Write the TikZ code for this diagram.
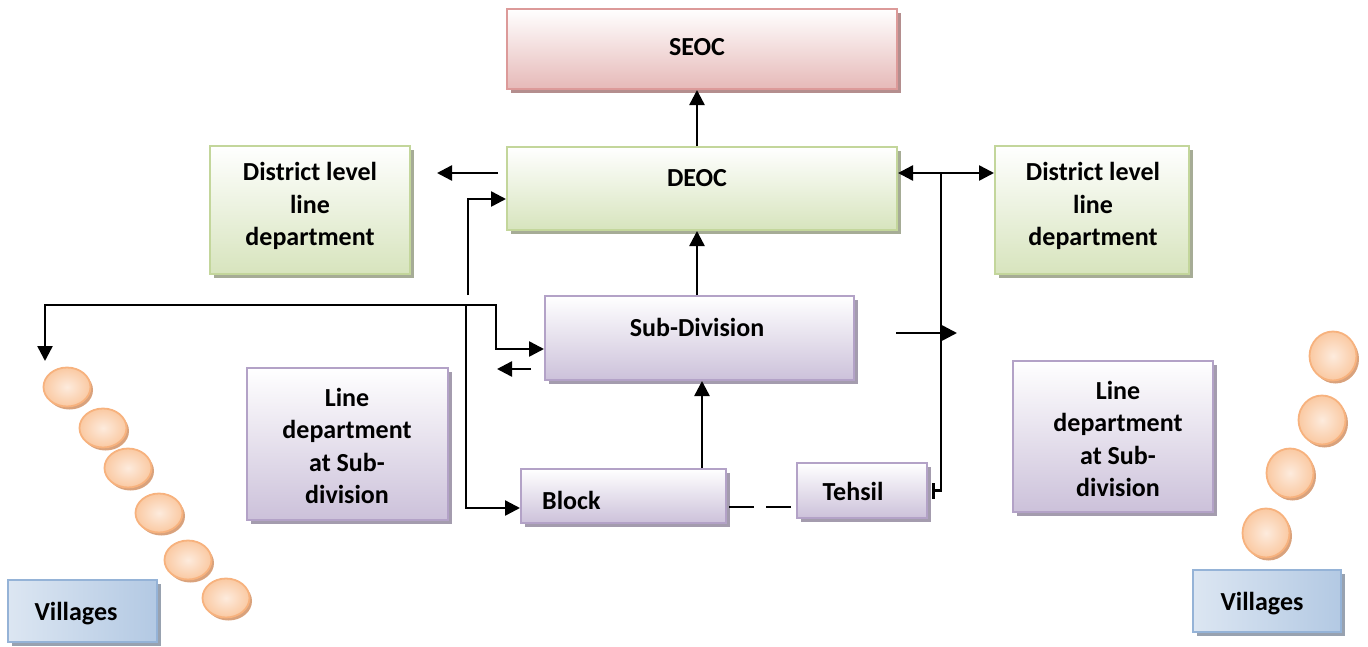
\documentclass[tikz,border=0pt]{standalone}
\usepackage{fontspec}
\setmainfont{Carlito}
\usetikzlibrary{arrows.meta,shadows,shapes.geometric}

\definecolor{pinkB}{HTML}{E6B9B8}
\definecolor{pinkD}{HTML}{DC9A99}
\definecolor{pinkS}{HTML}{B48E8E}
\definecolor{greenB}{HTML}{D7E4BD}
\definecolor{greenD}{HTML}{C3D69B}
\definecolor{greenS}{HTML}{A6AC96}
\definecolor{purpB}{HTML}{CCC1DA}
\definecolor{purpD}{HTML}{B3A2C7}
\definecolor{purpS}{HTML}{A49CAE}
\definecolor{blueL}{HTML}{DCE6F2}
\definecolor{blueB}{HTML}{B3C9E3}
\definecolor{blueD}{HTML}{95B3D7}
\definecolor{blueS}{HTML}{98A2B0}
\definecolor{peachL}{HTML}{FDEBDD}
\definecolor{peachB}{HTML}{FAC9A2}
\definecolor{peachD}{HTML}{F7B27E}
\definecolor{peachS}{HTML}{D9A27C}

\begin{document}
\begin{tikzpicture}[x=1pt,y=-1pt,
  box/.style={draw, line width=2pt, inner sep=0pt, anchor=center},
  pinkbox/.style={box, draw=pinkD, top color=white, bottom color=pinkB,
    drop shadow={shadow xshift=3.5pt, shadow yshift=-4pt, fill=pinkS, opacity=1}},
  greenbox/.style={box, draw=greenD, top color=white, bottom color=greenB,
    drop shadow={shadow xshift=3.5pt, shadow yshift=-4pt, fill=greenS, opacity=1}},
  purpbox/.style={box, draw=purpD, top color=white, bottom color=purpB,
    drop shadow={shadow xshift=3.5pt, shadow yshift=-4pt, fill=purpS, opacity=1}},
  villbox/.style={box, draw=blueD, left color=blueL, right color=blueB,
    drop shadow={shadow xshift=3.5pt, shadow yshift=-4pt, fill=blueS, opacity=1}},
  dot/.style={ellipse, draw=peachD, line width=1.8pt, inner sep=0pt,
    inner color=peachL, outer color=peachB,
    drop shadow={shadow xshift=2.5pt, shadow yshift=-3pt, fill=peachS, opacity=1}},
  lbl/.style={font=\bfseries\fontsize{26}{32.5}\selectfont, align=center, inner sep=0pt},
  conn/.style={line width=2.5pt},
  arr/.style={conn, -{Triangle[length=15pt,width=15pt]}},
  arrs/.style={conn, {Triangle[length=15pt,width=15pt]}-{Triangle[length=15pt,width=15pt]}},
]
\useasboundingbox (0,0) rectangle (1368,646);

% ---- boxes ----
\node[pinkbox, minimum width=390, minimum height=80] (seoc) at (702,49) {};
\node[greenbox, minimum width=390, minimum height=83] (deoc) at (702,188.5) {};
\node[greenbox, minimum width=200, minimum height=128] (distL) at (310,210) {};
\node[greenbox, minimum width=194, minimum height=128] (distR) at (1092,210) {};
\node[purpbox, minimum width=309, minimum height=84] (subdiv) at (699.5,338) {};
\node[purpbox, minimum width=201, minimum height=152] (lineL) at (347.5,444) {};
\node[purpbox, minimum width=200, minimum height=151] (lineR) at (1113,436.5) {};
\node[purpbox, minimum width=205, minimum height=54] (block) at (623.5,496) {};
\node[purpbox, minimum width=130, minimum height=55] (tehsil) at (862,490.5) {};
\node[villbox, minimum width=149, minimum height=62] (villL) at (82.5,611) {};
\node[villbox, minimum width=148, minimum height=62] (villR) at (1267,601) {};

% ---- texts ----
\node[lbl] (seoc-t) at (697,47) {SEOC};
\node[lbl] (deoc-t) at (697,178) {DEOC};
\node[lbl] (distL-t) at (310,206) {District level\\line\\department};
\node[lbl] (distR-t) at (1093,206) {District level\\line\\department};
\node[lbl] (subdiv-t) at (697,327) {Sub-Division};
\node[lbl] (lineL-t) at (347,446) {Line\\department\\at Sub-\\division};
\node[lbl] (lineR-t) at (1118,439) {Line\\department\\at Sub-\\division};
\node[lbl, anchor=west] (block-t) at (542,500) {Block};
\node[lbl] (tehsil-t) at (853,491) {Tehsil};
\node[lbl] (villL-t) at (76,614) {Villages};
\node[lbl] (villR-t) at (1262,604) {Villages};

% ---- village dots ----
\foreach \i/\px/\py in {1/67/387, 2/103/428, 3/128/468, 4/159/513, 5/188/560, 6/226/598}
  \node[dot, minimum width=47, minimum height=39] (vl\i) at (\px,\py) {};
\foreach \i/\px/\py in {1/1333/356, 2/1322/420, 3/1290/473, 4/1266/533}
  \node[dot, minimum width=47, minimum height=49] (vr\i) at (\px,\py) {};

% ---- free ends of connectors ----
\coordinate (toDistL-a) at (498,173);
\coordinate (toDistL-b) at (437,173);
\coordinate (upLeft) at (468,295);
\coordinate (jR) at (941,173);
\coordinate (midR-a) at (896,333);
\coordinate (midR-b) at (957,333);
\coordinate (villDrop) at (45,361);
\coordinate (loopTop) at (496,305);
\coordinate (blockRise) at (466,305);
\coordinate (back-a) at (531,369);
\coordinate (back-b) at (497,369);

% ---- connectors ----
\draw[arr] ([xshift=-5pt]deoc.north) -- ([xshift=-5pt]seoc.south);
\draw[arr] ([xshift=-2.5pt]subdiv.north) -- ([xshift=-5pt]deoc.south);
\draw[arr] ([xshift=78.5pt]block.north) -- ([xshift=78.5pt]block.north |- subdiv.south);
\draw[arr] (toDistL-a) -- (toDistL-b);
\draw[arr] (upLeft) |- ([yshift=-10.5pt]deoc.west);
\draw[arrs] ([yshift=15.5pt]deoc.east) -- ([yshift=37pt]distR.west);
\draw[conn, -{Bar[width=16pt]}] (jR) |- ([xshift=4pt]tehsil.east);
\draw[arr] (midR-a) -- (midR-b);
\draw[arrs] (villDrop) |- (loopTop) |- ([yshift=-11pt]subdiv.west);
\draw[arr] (blockRise) |- ([yshift=-12pt]block.west);
\draw[arr] (back-a) -- (back-b);
\draw[conn, dash pattern=on 25pt off 12pt]
  ([xshift=2pt,yshift=-11pt]block.east) -- ([yshift=-11pt]block.east -| tehsil.west);
\end{tikzpicture}
\end{document}
